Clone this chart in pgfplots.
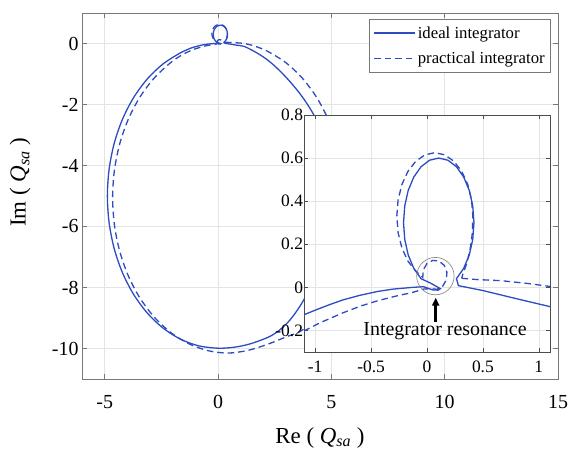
\documentclass[border=0pt]{standalone}
\usepackage{fontspec}
\setmainfont{Liberation Serif}
\usepackage{pgfplots}
\pgfplotsset{compat=1.18}
\usepackage{pgfplotstable}
\usetikzlibrary{arrows.meta}
\definecolor{lblue}{RGB}{45,75,195}
\definecolor{axgray}{RGB}{120,120,120}
\definecolor{gridgray}{RGB}{228,228,228}

\pgfplotstableread{
x y
0.28 0.008
0.5 -0.015
0.81 -0.054
1.16 -0.097
1.6 -0.26
2.0 -0.44
2.4 -0.67
2.8 -0.95
3.2 -1.27
3.6 -1.63
3.95 -2.0
4.3 -2.44
4.6 -2.96
4.85 -3.58
5.0 -4.2
5.05 -4.9
5.0 -5.6
4.85 -6.3
4.6 -7.0
4.2 -7.8
3.75 -8.45
3.3 -8.95
2.87 -9.3
2.3 -9.6
1.41 -9.85
0.7 -9.96
0 -9.99
-0.847 -9.914
-1.669 -9.689
-2.44 -9.321
-3.137 -8.822
-3.738 -8.208
-4.226 -7.495
-4.586 -6.707
-4.806 -5.866
-4.88 -5.0
-4.806 -4.134
-4.586 -3.293
-4.226 -2.505
-3.738 -1.792
-3.137 -1.178
-2.44 -0.679
-1.669 -0.311
-1.15 -0.138
-1.0 -0.106
-0.875 -0.081
-0.75 -0.058
-0.6 -0.037
-0.44 -0.019
-0.3 -0.008
-0.125 0.0
-0.03 0.003
0.05 -0.012
0.1 -0.013
0.12 -0.006
0.03 0.02
-0.053 0.040
-0.118 0.088
-0.168 0.15
-0.199 0.222
-0.21 0.3
-0.199 0.378
-0.168 0.45
-0.118 0.512
-0.053 0.56
0.023 0.59
0.105 0.6
0.187 0.59
0.263 0.56
0.328 0.512
0.378 0.45
0.409 0.378
0.42 0.3
0.409 0.222
0.378 0.15
0.328 0.088
0.263 0.04
0.275 0.02
0.28 0.008
}\ideal

\pgfplotstableread{
x y
0.31 0.042
0.45 0.036
0.66 0.031
0.9 0.018
1.16 0.0
1.6 -0.081
2.194 -0.258
3.0 -0.633
3.728 -1.143
4.357 -1.772
4.867 -2.5
5.24 -3.306
5.47 -4.165
5.55 -5.05
5.45 -6.0
5.2 -7.0
4.8 -7.95
4.3 -8.75
3.75 -9.38
3.0 -9.62
2.194 -9.86
1.336 -10.06
0.45 -10.15
-0.436 -10.072
-1.294 -9.842
-2.10 -9.467
-2.828 -8.957
-3.457 -8.328
-3.967 -7.6
-4.342 -6.794
-4.572 -5.935
-4.65 -5.05
-4.572 -4.165
-4.342 -3.306
-3.967 -2.5
-3.457 -1.772
-2.828 -1.143
-2.10 -0.633
-1.6 -0.38
-1.15 -0.215
-0.95 -0.163
-0.75 -0.118
-0.6 -0.088
-0.44 -0.062
-0.28 -0.041
-0.125 -0.023
-0.03 -0.008
0.032 -0.006
0.089 -0.009
0.141 0.006
0.173 0.035
0.178 0.070
0.154 0.102
0.108 0.122
0.051 0.125
-0.001 0.110
-0.033 0.081
-0.038 0.046
-0.1 0.075
-0.17 0.121
-0.2245 0.1825
-0.2584 0.2536
-0.27 0.33
-0.2584 0.4064
-0.2245 0.4775
-0.17 0.5386
-0.1 0.5855
-0.018 0.615
0.07 0.625
0.158 0.615
0.24 0.5855
0.3104 0.5386
0.3645 0.4775
0.3984 0.4064
0.41 0.33
0.405 0.25
0.385 0.175
0.355 0.11
0.32 0.06
0.31 0.042
}\practical

\begin{document}
\begin{tikzpicture}
\useasboundingbox (-82bp,-70bp) rectangle (489bp,379bp);
\begin{axis}[
  name=main, at={(0,0)}, anchor=south west,
  scale only axis, width=476bp, height=366bp,
  xmin=-6, xmax=15, ymin=-11, ymax=1,
  xtick={-5,0,5,10,15}, ytick={-10,-8,-6,-4,-2,0},
  grid=major, major grid style={gridgray, line width=0.5bp},
  axis line style={axgray, line width=0.6bp},
  tick style={axgray, line width=0.6bp},
  major tick length=5bp,
  /pgf/number format/assume math mode=true,
  tick label style={font=\fontsize{20}{24}\selectfont},
  xticklabel style={yshift=-13bp},
  xlabel={Re ( \textit{Q}\textsubscript{\textit{sa}} )},
  ylabel={Im ( \textit{Q}\textsubscript{\textit{sa}} )},
  xlabel style={at={(axis description cs:0.5,-0.175)}, anchor=base, font=\fontsize{23}{27}\selectfont},
  ylabel style={at={(axis description cs:-0.13,0.538)}, anchor=center, font=\fontsize{23}{27}\selectfont},
  legend style={at={(rel axis cs:0.985,0.984)}, anchor=north east,
    draw=axgray, fill=white, font=\fontsize{16.8}{20}\selectfont,
    row sep=8bp, inner xsep=4bp, inner ysep=5.5bp},
  legend cell align=left,
  legend image code/.code={\draw[#1] (0bp,0bp) -- (41bp,0bp);},
]
\addplot[lblue, line width=1.3bp, smooth, tension=0.5] table[x=x,y=y] {\ideal};
\addlegendentry{ideal integrator}
\addplot[lblue, line width=1.3bp, smooth, tension=0.5, dash pattern=on 6.5bp off 4bp] table[x=x,y=y] {\practical};
\addlegendentry{practical integrator}
\end{axis}
\begin{axis}[
  at={(222bp,27bp)}, anchor=south west,
  scale only axis, width=246bp, height=237bp,
  axis background/.style={fill=white},
  xmin=-1.1, xmax=1.1, ymin=-0.3, ymax=0.8,
  xtick={-1,-0.5,0,0.5,1}, ytick={-0.2,0,0.2,0.4,0.6,0.8},
  grid=major, major grid style={gridgray, line width=0.5bp},
  axis line style={black!70, line width=0.6bp},
  tick style={black!70, line width=0.6bp},
  major tick length=4bp,
  /pgf/number format/assume math mode=true,
  tick label style={font=\fontsize{17.5}{21}\selectfont},
  xticklabel style={yshift=-5bp},
  yticklabel style={xshift=2.5bp},
]
\addplot[lblue, line width=1.3bp] table[x=x,y=y] {\ideal};
\addplot[lblue, line width=1.3bp, dash pattern=on 6.5bp off 4bp] table[x=x,y=y] {\practical};
\draw[gray, line width=0.6bp] (axis cs:0.075,0.052) circle[radius=18.7bp];
\draw[-{Triangle[length=8bp,width=7bp]}, line width=2.6bp] (axis cs:0.078,-0.16) -- (axis cs:0.078,-0.048);
\node[font=\fontsize{20}{24}\selectfont] at (axis cs:0.161,-0.202) {Integrator resonance};
\end{axis}
\end{tikzpicture}
\end{document}
